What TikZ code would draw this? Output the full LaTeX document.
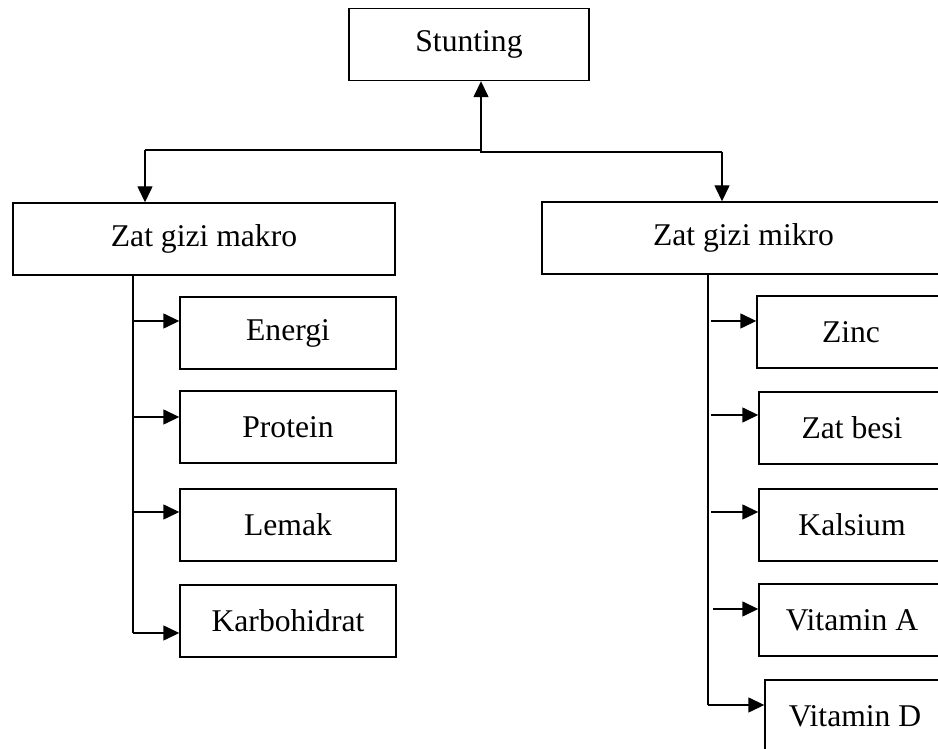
\documentclass[tikz,border=0pt]{standalone}
\usepackage{fontspec}
\setmainfont{Liberation Serif}
\usetikzlibrary{arrows.meta}
\begin{document}
\begin{tikzpicture}[
    font=\fontsize{18}{21.6}\selectfont,
    box/.style={draw, line width=0.028cm, minimum height=1.44cm, inner sep=0pt},
    flow/.style={line width=0.028cm, -{Triangle[length=0.32cm,width=0.30cm]}},
    link/.style={line width=0.028cm}]
                \useasboundingbox (0,0) rectangle (18.760000,14.980000);
                \clip (0,0) rectangle (18.760000,14.980000);

                % Top box
                \node [box, minimum width=4.800000cm] (stunting) at (9.380000,14.090000) {Stunting};%

                % Two groups
                \node [box, minimum width=7.640000cm] (makro) at (4.080000,10.200000) {Zat gizi makro};%
                \node [box, minimum width=8.060000cm] (mikro) at (14.870000,10.220000) {Zat gizi mikro};%

                % Makro items
                \node [box, minimum width=4.320000cm] (energi) at (5.760000,8.320000) {Energi};%
                \node [box, minimum width=4.320000cm] (protein) at (5.760000,6.440000) {Protein};%
                \node [box, minimum width=4.320000cm] (lemak) at (5.760000,4.480000) {Lemak};%
                \node [box, minimum width=4.320000cm] (karbo) at (5.760000,2.560000) {Karbohidrat};%

                % Mikro items
                \node [box, minimum width=3.760000cm] (zinc) at (17.020000,8.340000) {Zinc};%
                \node [box, minimum width=3.720000cm] (besi) at (17.040000,6.420000) {Zat besi};%
                \node [box, minimum width=3.720000cm] (kalsium) at (17.040000,4.480000) {Kalsium};%
                \node [box, minimum width=3.720000cm] (vita) at (17.040000,2.580000) {Vitamin A};%
                \node [box, minimum width=3.600000cm] (vitd) at (17.100000,0.660000) {Vitamin D};%

                % Drawing split below Stunting
                \coordinate (split) at (9.620000,11.960000);
                \coordinate (leftbend) at (2.900000,11.980000);
                \coordinate (rightbend) at (14.440000,11.940000);
                \draw [flow] (split) -- (split |- stunting.south);%
                \draw [link] (split) -- (split |- leftbend) -- (leftbend);%
                \draw [flow] (leftbend) -- (leftbend |- makro.north);%
                \draw [link] (split) -- (split |- rightbend) -- (rightbend);%
                \draw [flow] (rightbend) -- (rightbend |- mikro.north);%

                % Drawing trunk of makro
                \coordinate (mkend) at (2.660000,2.320000);
                \draw [link] (mkend |- makro.south) -- (mkend);%
                \coordinate (mk1) at (2.660000,8.560000);
                \coordinate (mk2) at (2.660000,6.640000);
                \coordinate (mk3) at (2.660000,4.740000);
                \draw [flow] (mk1) -- (mk1 -| energi.west);%
                \draw [flow] (mk2) -- (mk2 -| protein.west);%
                \draw [flow] (mk3) -- (mk3 -| lemak.west);%
                \draw [flow] (mkend) -- (mkend -| karbo.west);%

                % Drawing trunk of mikro
                \coordinate (miend) at (14.160000,0.880000);
                \draw [link] (miend |- mikro.south) -- (miend);%
                \coordinate (mi1) at (14.220000,8.560000);
                \coordinate (mi2) at (14.220000,6.680000);
                \coordinate (mi3) at (14.220000,4.740000);
                \coordinate (mi4) at (14.260000,2.800000);
                \draw [flow] (mi1) -- (mi1 -| zinc.west);%
                \draw [flow] (mi2) -- (mi2 -| besi.west);%
                \draw [flow] (mi3) -- (mi3 -| kalsium.west);%
                \draw [flow] (mi4) -- (mi4 -| vita.west);%
                \draw [flow] (miend) -- (miend -| vitd.west);%
            \end{tikzpicture}
\end{document}
